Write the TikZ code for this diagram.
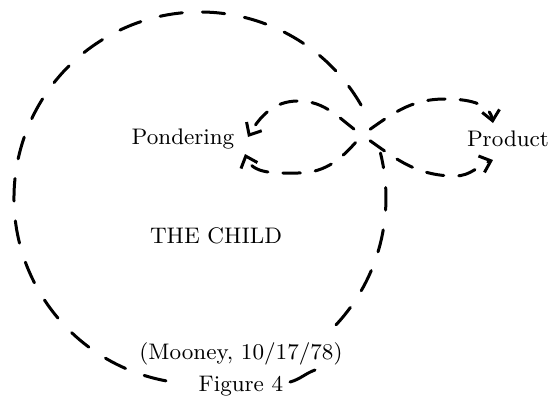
\documentclass[tikz,border=0pt]{standalone}
\usepackage{tikz}
\usetikzlibrary{arrows.meta}
\usetikzlibrary{positioning}

\begin{document}
\begin{tikzpicture}[x=0.4pt,y=0.4pt]
  \tikzset{word/.style = {inner sep=1pt, font=\fontsize{9}{11}\selectfont}}
  \tikzset{bigloop/.style = {line width=1.2pt, dash pattern=on 9pt off 8pt, line cap=round}}
  \tikzset{loopedge/.style = {line width=1.2pt, dash pattern=on 7pt off 6pt, dash phase=9pt, line cap=round,
      -{Straight Barb[length=4pt,width=7pt,line width=1.2pt]}}}

  \useasboundingbox (0,0) rectangle (549,396);

	\node[word] (pond) at (183,257) {Pondering};
	\node[word] (prod) at (508,257) {Product};
	\node[word] (child) at (216,160) {THE CHILD};
	\node[word] (mooney) at (241,42) {(Mooney, 10/17/78)};
	\node[word] (fig) at (241,10) {Figure 4};

	\coordinate (ctr) at (200,198);
	\coordinate (figR) at (290,14);
	\coordinate (figR2) at (315,26);
	\coordinate (x) at (362,261);
	\coordinate (pT) at (248,259);
	\coordinate (pB) at (245,242);
	\coordinate (qT) at (493,273);
	\coordinate (qB) at (493,236);

    % the child
    \draw[bigloop, solid] (figR) to[out=15,in=-160] (figR2);
    \draw[bigloop] (ctr) ++(-43:186) arc[start angle=-43, end angle=14, radius=186];
    \draw[bigloop] (ctr) ++(30:186) arc[start angle=30, end angle=263, radius=186];

    % pondering <-> product
    \draw[loopedge] (x) to[out=145,in=0] (298,295) to[out=180,in=60] (pT);
    \draw[loopedge] (x) to[out=-130,in=0] (298,223) to[out=180,in=-70] (pB);
    \draw[loopedge] (x) to[out=35,in=180] (445,297) to[out=0,in=100] (qT);
    \draw[loopedge] (x) to[out=-35,in=180] (455,220) to[out=0,in=200] (qB);

\end{tikzpicture}
\end{document}
